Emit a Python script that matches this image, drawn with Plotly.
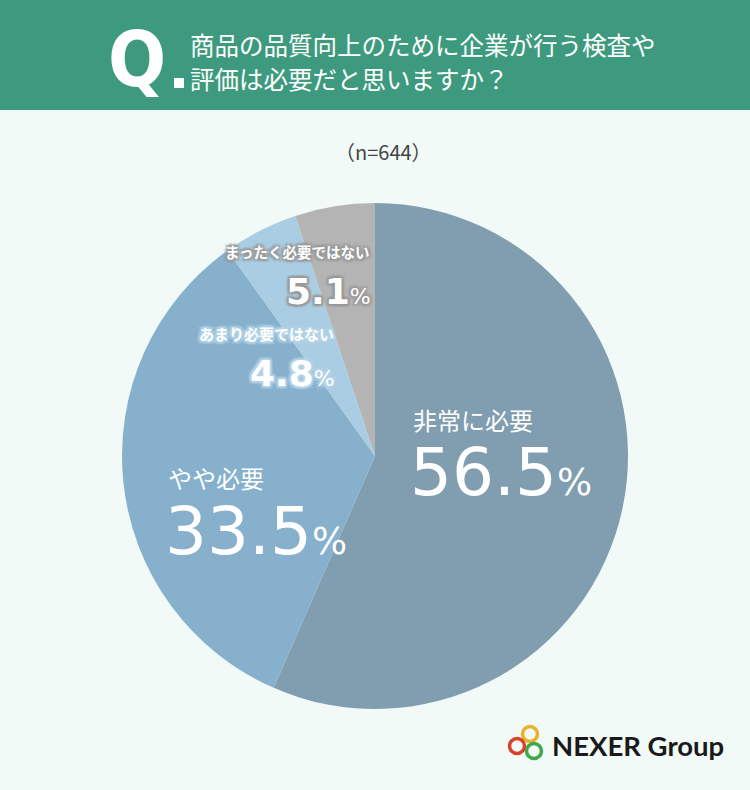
import plotly.graph_objects as go

categories = ["非常に必要", "やや必要", "あまり必要ではない", "まったく必要ではない"]
values = [56.5, 33.5, 4.8, 5.1]
colors = ["#809eb0", "#86b0cc", "#a9cde2", "#b4b4b4"]
title_lines = ["商品の品質向上のために企業が行う検査や", "評価は必要だと思いますか？"]
n_label = "（n=644）"

W, H = 750, 790
cx, cy, r = 375, 456, 253

fig = go.Figure()
fig.add_trace(go.Pie(
    labels=categories, values=values, sort=False, direction="clockwise",
    rotation=0, marker=dict(colors=colors, line=dict(width=0)),
    textinfo="none", hoverinfo="label+percent", showlegend=False,
    domain=dict(x=[(cx - r) / W, (cx + r) / W], y=[1 - (cy + r) / H, 1 - (cy - r) / H]),
))

def px(x):
    return x / W

def py(y):
    return 1 - y / H

shapes = [
    dict(type="rect", xref="paper", yref="paper", x0=0, x1=1, y0=py(110), y1=1,
         fillcolor="#3e9a7e", line=dict(width=0), layer="below"),
    dict(type="rect", xref="paper", yref="paper", x0=px(174), x1=px(184), y0=py(88), y1=py(78),
         fillcolor="white", line=dict(width=0)),
]
# logo circles
for (x, y, c) in [(530, 734, "#e8b32a"), (517, 746, "#d9412f"), (534, 751, "#3ea84a")]:
    shapes.append(dict(type="circle", xref="paper", yref="paper",
                       x0=px(x - 7.5), x1=px(x + 7.5), y0=py(y + 7.5), y1=py(y - 7.5),
                       line=dict(color=c, width=3.5)))

jp = "Noto Sans CJK JP"
num = "DejaVu Sans"
ann = []
def A(x, y, text, size, color="white", xanchor="left", family=jp, shadow=None):
    f = dict(size=size, color=color, family=family)
    if shadow:
        f["shadow"] = shadow
    ann.append(dict(x=px(x), y=py(y), xref="paper", yref="paper", text=text, showarrow=False,
                    xanchor=xanchor, yanchor="middle", font=f))

A(106, 60, "<b>Q</b>", 76, family="DejaVu Sans Condensed")
A(188, 45, title_lines[0], 24.5)
A(188, 79, title_lines[1], 24.5)
A(383, 151, n_label, 20, color="#444444", xanchor="center")

A(411, 419, categories[0], 24)
A(408, 472, "56.5<span style='font-size:37px'>%</span>", 66, family=num)
A(166, 477, categories[1], 24)
A(163, 531, "33.5<span style='font-size:37px'>%</span>", 66, family=num)

halo_g = "2px 2px 2px #999999, -2px -2px 2px #999999, 2px -2px 2px #999999, -2px 2px 2px #999999, 0px 0px 3px #999999"
halo_b = "2px 2px 2px #b3d3e8, -2px -2px 2px #b3d3e8, 2px -2px 2px #b3d3e8, -2px 2px 2px #b3d3e8, 0px 0px 3px #b3d3e8"
A(371, 252, "<b>" + categories[3] + "</b>", 14.5, xanchor="right", shadow=halo_g)
A(373, 291, "<b>5.1</b><span style='font-size:22px'>%</span>", 36, xanchor="right", family=num, shadow=halo_g)
A(336, 333, "<b>" + categories[2] + "</b>", 15, xanchor="right", shadow=halo_b)
A(337, 373, "<b>4.8</b><span style='font-size:22px'>%</span>", 36, xanchor="right", family=num, shadow=halo_b)

A(550, 745, "<b>NEXER Group</b>", 27.5, color="#1a1a1a", family="Lato")

fig.update_layout(
    width=W, height=H, margin=dict(l=0, r=0, t=0, b=0),
    paper_bgcolor="#f1faf7", plot_bgcolor="#f1faf7",
    shapes=shapes, annotations=ann,
)
fig.write_html("out.html", config={"displayModeBar": False},
               post_script="document.body.style.margin='0';document.body.style.overflow='hidden';")
